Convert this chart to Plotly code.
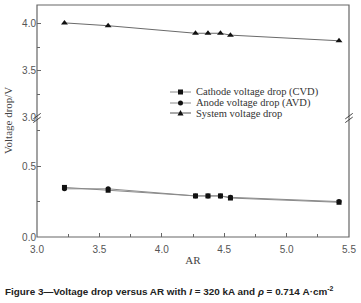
import plotly.graph_objects as go

ar = [3.22, 3.57, 4.27, 4.37, 4.47, 4.55, 5.42]
cvd = [0.35, 0.33, 0.29, 0.29, 0.29, 0.275, 0.245]
avd = [0.34, 0.34, 0.29, 0.29, 0.29, 0.28, 0.25]
svd = [4.01, 3.98, 3.90, 3.90, 3.90, 3.88, 3.82]

x_ticks = [3.0, 3.5, 4.0, 4.5, 5.0, 5.5]
y_low_ticks = [0.0, 0.5]
y_high_ticks = [3.0, 3.5, 4.0]
legend_names = ["Cathode voltage drop (CVD)", "Anode voltage drop (AVD)", "System voltage drop"]

BREAK = 0.513
serif = "Liberation Serif"
sans = "Liberation Sans"
tickcol = "#555555"

fig = go.Figure()
fig.add_trace(go.Scatter(x=ar, y=cvd, mode="lines+markers", name=legend_names[0],
                         line=dict(color="#8a8a8a", width=1),
                         marker=dict(symbol="square", size=5, color="#111111"),
                         xaxis="x", yaxis="y"))
fig.add_trace(go.Scatter(x=ar, y=avd, mode="lines+markers", name=legend_names[1],
                         line=dict(color="#8a8a8a", width=1),
                         marker=dict(symbol="circle", size=5, color="#111111"),
                         xaxis="x", yaxis="y"))
fig.add_trace(go.Scatter(x=ar, y=svd, mode="lines+markers", name=legend_names[2],
                         line=dict(color="#6a6a6a", width=1),
                         marker=dict(symbol="triangle-up", size=6, color="#111111"),
                         xaxis="x", yaxis="y2"))

axis_common = dict(showgrid=False, zeroline=False, ticks="inside", ticklen=4,
                   tickcolor="#666666", tickfont=dict(family=sans, size=10, color=tickcol),
                   showline=False)

fig.update_layout(
    width=361, height=303,
    margin=dict(l=37, r=12, t=5, b=66),
    plot_bgcolor="white", paper_bgcolor="white",
    xaxis=dict(range=[3.0, 5.5], tickvals=x_ticks, ticktext=[f"{v:.1f}" for v in x_ticks],
               anchor="y", domain=[0, 1], ticklabelstandoff=5,
               minor=dict(ticks="inside", dtick=0.25, ticklen=3, tickcolor="#666666"),
               title=dict(text="AR", font=dict(family=serif, size=11, color="#444444"), standoff=2),
               **axis_common),
    yaxis=dict(range=[0, 0.84], domain=[0, BREAK], anchor="x",
               tickvals=y_low_ticks, ticktext=[f"{v:.1f}" for v in y_low_ticks],
               minor=dict(ticks="inside", tickvals=[0.25, 0.75], ticklen=3, tickcolor="#666666"),
               **axis_common),
    yaxis2=dict(range=[3.0, 4.2], domain=[BREAK, 1], anchor="x",
                tickvals=y_high_ticks, ticktext=[f"{v:.1f}" for v in y_high_ticks],
                minor=dict(ticks="inside", tickvals=[3.25, 3.75], ticklen=3, tickcolor="#666666"),
                **axis_common),
    showlegend=False,
)

# frame
fig.add_shape(type="rect", xref="paper", yref="paper", x0=0, x1=1, y0=0, y1=1,
              line=dict(color="#666666", width=1.2), fillcolor="rgba(0,0,0,0)")
# break marks
for xp in [0, 1]:
    for dy in [-0.008, 0.008]:
        fig.add_shape(type="line", xref="paper", yref="paper",
                      x0=xp - 0.012, x1=xp + 0.012, y0=BREAK + dy - 0.012, y1=BREAK + dy + 0.012,
                      line=dict(color="#444444", width=1))

# manual legend (compact spacing as in reference)
PW, PH = 312.0, 232.0
lx0, lx1 = (170 - 37) / PW, (191 - 37) / PW
ltext = (194 - 37) / PW
rows_px = [92, 103, 113]
symbols = ["square", "circle", "triangle"]
for name, ypx, sym, lc in zip(legend_names, rows_px, symbols, ["#8a8a8a", "#8a8a8a", "#555555"]):
    yp = (237 - ypx) / PH
    fig.add_shape(type="line", xref="paper", yref="paper", x0=lx0, x1=lx1, y0=yp, y1=yp,
                  line=dict(color=lc, width=1))
    cx = (lx0 + lx1) / 2
    dx, dy = 2.5 / PW, 2.5 / PH
    if sym == "square":
        fig.add_shape(type="rect", xref="paper", yref="paper", x0=cx - dx, x1=cx + dx,
                      y0=yp - dy, y1=yp + dy, fillcolor="#111111", line=dict(width=0))
    elif sym == "circle":
        fig.add_shape(type="circle", xref="paper", yref="paper", x0=cx - dx, x1=cx + dx,
                      y0=yp - dy, y1=yp + dy, fillcolor="#111111", line=dict(width=0))
    else:
        fig.add_shape(type="path", xref="paper", yref="paper",
                      path=f"M {cx - 3/PW} {yp - 2.5/PH} L {cx + 3/PW} {yp - 2.5/PH} L {cx} {yp + 3/PH} Z",
                      fillcolor="#111111", line=dict(width=0))
    fig.add_annotation(text=name, xref="paper", yref="paper", x=ltext, y=yp,
                       xanchor="left", yanchor="middle", showarrow=False,
                       font=dict(family=serif, size=10.5, color="#333333"))

fig.add_annotation(text="Voltage drop/V", xref="paper", yref="paper", x=(8 - 37) / PW, y=0.5,
                   textangle=-90, showarrow=False, xanchor="center", yanchor="middle",
                   font=dict(family=serif, size=11, color="#444444"))
fig.add_annotation(text="<b>Figure 3—Voltage drop versus AR with <i>I</i> = 320 kA and <i>ρ</i> = 0.714 A·cm<sup>-2</sup></b>",
                   xref="paper", yref="paper", x=(3 - 37) / PW, y=(237 - 291) / PH,
                   xanchor="left", yanchor="middle",
                   showarrow=False, font=dict(family=sans, size=9.9, color="#222222"))

fig.write_html("out.html", config={"displayModeBar": False},
               post_script="document.body.style.margin='0px';")
